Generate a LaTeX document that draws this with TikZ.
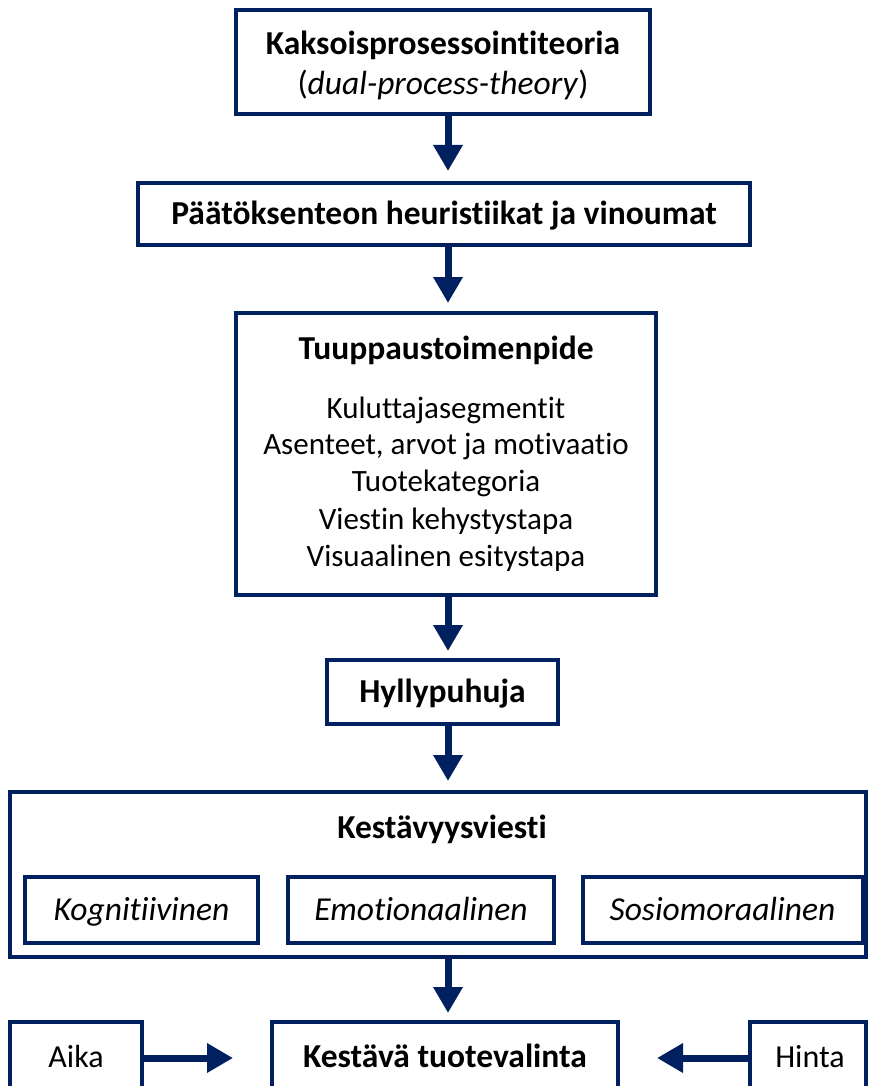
\documentclass[tikz,border=0pt]{standalone}
\usepackage{fontspec}
\setmainfont[Ligatures=NoCommon]{Carlito}
\usetikzlibrary{arrows.meta}
\definecolor{navy}{RGB}{0,32,96}
\begin{document}
\begin{tikzpicture}[x=1pt,y=-1pt,
  box/.style={draw=navy,line width=4pt,fill=white,inner sep=0pt},
  arr/.style={draw=navy,line width=7pt,-{Triangle[width=28pt,length=26pt]}},
  tb/.style={inner sep=0pt,text height=0.75em,text depth=0.25em,yshift=-6pt},
  txt/.style={tb,font=\fontsize{31}{37}\selectfont},
  btxt/.style={tb,font=\fontsize{33.5}{40}\selectfont\bfseries},
  itxt/.style={tb,font=\fontsize{33.5}{40}\selectfont\itshape}]
\clip (0,0) rectangle (868,1086);
\fill[white] (0,0) rectangle (868,1086);
% boxes
\node[box,minimum width=414pt,minimum height=104pt] (b1) at (443,62) {};
\node[btxt] (b1t) at (443,46) {Kaksoisprosessointiteoria};
\node[tb,font=\fontsize{33.5}{40}\selectfont] (b1s) at (443,86) {(\textit{dual-process-theory})};
\node[box,minimum width=612pt,minimum height=62pt] (b2) at (444,214) {};
\node[btxt] (b2t) at (444,216) {Päätöksenteon heuristiikat ja vinoumat};
\node[box,minimum width=420pt,minimum height=282pt] (b3) at (446,454) {};
\node[btxt] (b3t) at (446,351) {Tuuppaustoimenpide};
\node[txt] (l1) at (446,410) {Kuluttajasegmentit};
\node[txt] (l2) at (446,446) {Asenteet, arvot ja motivaatio};
\node[txt] (l3) at (446,483) {Tuotekategoria};
\node[txt] (l4) at (446,521) {Viestin kehystystapa};
\node[txt] (l5) at (446,558) {Visuaalinen esitystapa};
\node[box,minimum width=231pt,minimum height=64pt] (b4) at (442.5,692) {};
\node[btxt] (b4t) at (442.5,694) {Hyllypuhuja};
\node[box,minimum width=856pt,minimum height=165pt] (b5) at (438,874.5) {};
\node[btxt] (b5t) at (442,830) {Kestävyysviesti};
\node[box,minimum width=233pt,minimum height=66pt] (k1) at (141.5,910) {};
\node[itxt] (k1t) at (141.5,912) {Kognitiivinen};
\node[box,minimum width=266pt,minimum height=66pt] (k2) at (421,910) {};
\node[itxt] (k2t) at (421,912) {Emotionaalinen};
\node[box,minimum width=280pt,minimum height=66pt] (k3) at (722.5,910) {};
\node[itxt] (k3t) at (722.5,912) {Sosiomoraalinen};
\node[box,minimum width=132pt,minimum height=80pt] (aika) at (76,1062) {};
\node[tb,font=\fontsize{32}{38}\selectfont] (aikat) at (76,1059) {Aika};
\node[box,minimum width=346pt,minimum height=80pt] (kt) at (445,1062) {};
\node[btxt] (ktt) at (445,1059) {Kestävä tuotevalinta};
\node[box,minimum width=116pt,minimum height=80pt] (hinta) at (808,1062) {};
\node[tb,font=\fontsize{32}{38}\selectfont] (hintat) at (810,1059) {Hinta};
% arrows
\coordinate (a1s) at (448,114); \coordinate (a1e) at (448,171);
\coordinate (a2s) at (448,245); \coordinate (a2e) at (448,303);
\coordinate (a3s) at (448,595); \coordinate (a3e) at (448,651);
\coordinate (a4s) at (448,724); \coordinate (a4e) at (448,781);
\coordinate (a5s) at (448,957); \coordinate (a5e) at (448,1013);
\draw[arr] (a1s) -- (a1e);
\draw[arr] (a2s) -- (a2e);
\draw[arr] (a3s) -- (a3e);
\draw[arr] (a4s) -- (a4e);
\draw[arr] (a5s) -- (a5e);
\coordinate (ae) at (233,1058);
\coordinate (he) at (657,1058);
\draw[arr] (aika.east |- ae) -- (ae);
\draw[arr] (hinta.west |- he) -- (he);
\end{tikzpicture}
\end{document}
